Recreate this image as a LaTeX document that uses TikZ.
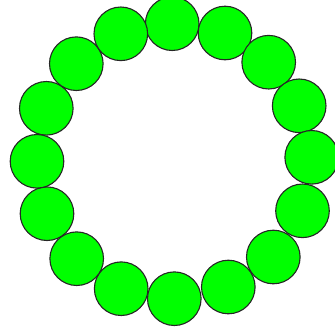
\documentclass[tikz,border=0pt]{standalone}
\definecolor{ballgreen}{RGB}{0,255,0}
\begin{document}
\begin{tikzpicture}[x=1pt,y=-1pt,
  ball/.style={circle,draw=black!85,line width=1.1pt,fill=ballgreen,minimum size=53.6pt,inner sep=0pt}]
\useasboundingbox (0,0) rectangle (335,335);
\node[ball] (c1) at (172.2,23.7) {};
\node[ball] (c2) at (225.0,33.0) {};
\node[ball] (c3) at (268.7,62.2) {};
\node[ball] (c4) at (299.2,105.8) {};
\node[ball] (c5) at (311.7,157.3) {};
\node[ball] (c6) at (302.5,210.8) {};
\node[ball] (c7) at (273.3,257.0) {};
\node[ball] (c8) at (228.3,287.0) {};
\node[ball] (c9) at (174.3,298.7) {};
\node[ball] (c10) at (121.2,288.7) {};
\node[ball] (c11) at (76.7,258.7) {};
\node[ball] (c12) at (47.0,213.7) {};
\node[ball] (c13) at (37.0,161.3) {};
\node[ball] (c14) at (46.3,108.3) {};
\node[ball] (c15) at (76.3,63.7) {};
\node[ball] (c16) at (120.8,33.8) {};
\end{tikzpicture}
\end{document}
